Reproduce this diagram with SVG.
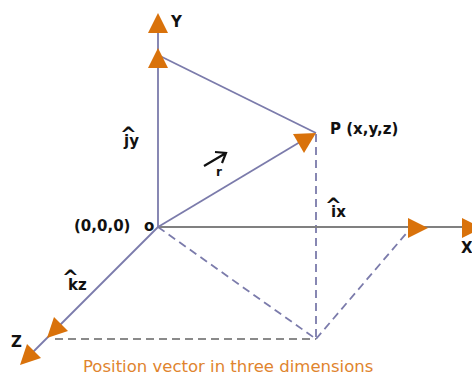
<svg xmlns="http://www.w3.org/2000/svg" width="472" height="376" viewBox="0 0 472 376">
<style>
.ax{stroke:#7b7bab;stroke-width:1.8;fill:none}
.gx{stroke:#808080;stroke-width:1.8;fill:none}
.da{stroke:#7b7bab;stroke-width:1.8;fill:none;stroke-dasharray:8 5}
.dg{stroke:#8a8a8a;stroke-width:1.8;fill:none;stroke-dasharray:8 5}
.tri{fill:#d9720b}
.lb{font-family:"DejaVu Sans",Verdana,sans-serif;font-weight:bold;font-size:15px;fill:#111}
.hat{font-size:20px}
.cap{font-family:"DejaVu Sans",Verdana,sans-serif;font-size:16.5px;fill:#e0842e}
</style>
<rect width="472" height="376" fill="#fff"/>
<g id="connectors">
<path class="da" d="M158,227 L316,339"/>
<path class="da" d="M316,134 L316,339"/>
<path class="da" d="M316,339 L410,229"/>
<path class="dg" d="M55,339 L316,339"/>
<path class="gx" d="M158,227 L472,227"/>
<path class="ax" d="M158,227 L158,30"/>
<path class="ax" d="M158,55 L316,133"/>
<path class="ax" d="M158,227 L305,139"/>
<path class="ax" d="M158,227 L32,353"/>
<polygon class="tri" points="158,13 148,33 168,33"/>
<polygon class="tri" points="158,48 148,68 168,68"/>
<polygon class="tri" points="428,228 408,218 408,238"/>
<polygon class="tri" points="482,228 462,218 462,238"/>
<polygon class="tri" points="316,133 293,134 304,153"/>
<polygon class="tri" points="47,338 54,317 68,331"/>
<polygon class="tri" points="20,365 27,344 41,358"/>
</g>
<g id="origin">
<text class="lb" x="74" y="231">(0,0,0)</text>
<text class="lb" x="144" y="231">o</text>
</g>
<g id="P">
<text class="lb" x="330" y="134">P (x,y,z)</text>
</g>
<g id="axis-y">
<text class="lb" x="171" y="27">Y</text>
<text class="lb"><tspan class="hat" x="120" y="141">^</tspan><tspan x="124" y="146">jy</tspan></text>
</g>
<g id="axis-x">
<text class="lb" x="461" y="253">X</text>
<text class="lb"><tspan class="hat" x="325" y="212">^</tspan><tspan x="331" y="217">ix</tspan></text>
</g>
<g id="axis-z">
<text class="lb" x="11" y="347">Z</text>
<text class="lb"><tspan class="hat" x="62" y="284">^</tspan><tspan x="68" y="290">kz</tspan></text>
</g>
<g id="vector-r">
<path d="M204,166 L226,153 M215,152 L226,153 L222,163" stroke="#111" stroke-width="2.2" fill="none"/>
<text class="lb" x="216" y="176" style="font-size:12px">r</text>
</g>
<g id="caption">
<text class="cap" x="83" y="372">Position vector in three dimensions</text>
</g>
</svg>
